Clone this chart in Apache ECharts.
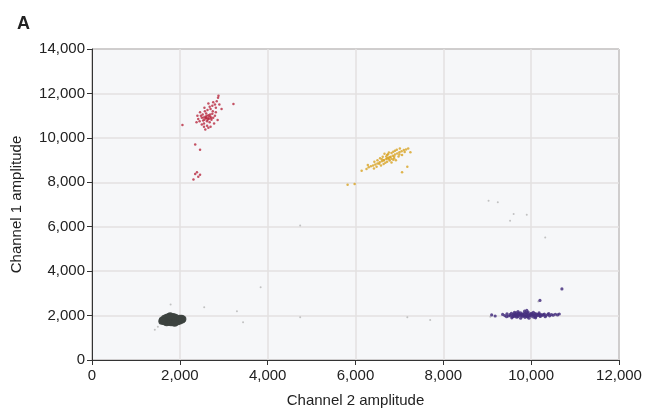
<!DOCTYPE html>
<html>
<head>
<meta charset="utf-8">
<script src="https://cdn.jsdelivr.net/npm/echarts@6/dist/echarts.min.js"></script>
<style>
html,body{margin:0;padding:0;background:#fff;}
#chart{width:647px;height:419px;}
</style>
</head>
<body>
<div id="chart"></div>
<script>
// Tick values (Channel 2 = x, Channel 1 = y)
const xTicks = [0, 2000, 4000, 6000, 8000, 10000, 12000];
const yTicks = [0, 2000, 4000, 6000, 8000, 10000, 12000, 14000];

// Double-negative cluster (grey blob)
const greyCluster = [
  [1600,1800],[1650,1720],[1650,1880],[1700,1680],[1700,1800],[1700,1920],[1750,1700],[1750,1830],
  [1750,1960],[1800,1680],[1800,1800],[1800,1930],[1850,1700],[1850,1830],[1850,1960],[1900,1690],
  [1900,1800],[1900,1920],[1950,1720],[1950,1850],[2000,1760],[2000,1880],[2050,1800],[2070,1850],
  [1620,1760],[1780,1990],[1880,1650],[1590,1740],[2040,1880]
];

// Channel-1 positive cluster (red)
const redCluster = [
  [2450,10750],[2500,10900],[2520,11050],[2550,10650],[2560,10820],[2580,10950],[2600,11100],[2620,10750],
  [2640,10880],[2650,11020],[2680,10700],[2700,10950],[2720,10820],[2740,11080],[2760,10900],[2480,11000],
  [2530,10780],[2590,10880],[2610,10980],[2660,10850],[2690,11050],[2570,11200],[2630,11250],[2700,11300],
  [2750,11200],[2800,11000],[2820,11150],[2420,10850],[2400,11000],[2460,11150],[2550,10500],[2620,10550],
  [2700,10500],[2780,10650],[2500,10600],[2650,10450],[2580,10380],[2680,11400],[2740,11450],[2800,11500],
  [2760,11600],[2840,11650],[2870,11800],[2900,11500],[2820,11350],[2880,11900],[2650,11550],[2950,11300],
  [2860,10800],[2380,10700],[2560,11350],[2600,10900],[2630,10820],[2670,10960],[2540,10920],[2710,10880],
  [2060,10580],[3220,11520],[2350,9700],[2460,9470],[2390,8450],[2460,8340],[2310,8120],[2350,8370],[2420,8250]
];

// Double-positive cluster (yellow)
const yellowCluster = [
  [6700,9050],[6650,9000],[6750,9100],[6600,8950],[6800,9150],[6550,8900],[6850,9200],[6500,8850],
  [6900,9250],[6450,8800],[6950,9300],[7000,9350],[7050,9400],[7100,9450],[7200,9520],[6620,9150],
  [6720,9230],[6780,8980],[6680,8880],[6560,9080],[6820,9320],[6880,9080],[6500,8990],[6480,8700],
  [6400,8760],[6350,8720],[6300,8680],[6760,9340],[6900,9420],[6980,9160],[7060,9230],[7120,9360],
  [6860,9020],[6640,8820],[6580,8760],[6720,8920],[6740,9260],[6860,9370],[6940,9460],[7010,9520],
  [6660,9280],[6430,8920],[6280,8780],[6820,8890],[6920,8990],[6720,9080],[6640,8980],[6780,9130],
  [6820,9060],[6700,9160],[6760,9040],[6880,9160],[6600,9040],[7000,9250],[6540,8840],[7150,9480],
  [6140,8520],[7060,8450],[5980,7920],[5820,7890],[6250,8600],[7250,9350],[6420,8620],[7180,8700]
];

// Channel-2 positive cluster (purple)
const purpleCluster = [
  [9350,2050],[9400,2000],[9450,2080],[9480,1980],[9520,2040],[9550,2100],[9580,1950],[9600,2020],
  [9630,2080],[9650,1990],[9680,2050],[9700,1950],[9720,2110],[9750,2000],[9780,2060],[9800,1960],
  [9820,2030],[9850,2100],[9870,1980],[9900,2050],[9920,1940],[9950,2010],[9980,2080],[10000,1970],
  [10030,2040],[10060,2000],[10080,2090],[10100,1950],[10130,2030],[10160,2060],[10200,1990],[10230,2040],
  [10260,2010],[10300,2070],[10340,2000],[10380,2050],[10420,1990],[10460,2040],[10500,2020],[10550,2060],
  [10600,2030],[10640,2070],[9850,2200],[9900,2230],[9620,2150],[9760,1880],[9950,1880],[10100,1900],
  [9700,2180],[10050,2150],[9560,1900],[9660,2120],[9880,2120],[10180,2120],[9440,1950],[10400,2090],
  [10320,1950],[9740,2040],[9960,2000],[9840,1990],[9640,2010],[10020,2050],[9920,2100],
  [9590,2060],[9690,2000],[9790,2010],[9890,1990],[9990,2030],[10090,2010],[10190,2050],[10280,2040],
  [9610,1960],[9710,2070],[9810,2080],[9910,1960],[10010,2100],[10110,2080],[10210,1960],[9530,1990],
  [9760,2120],[9860,1920],[10060,1930],[9930,2160],[10150,2000],[9670,1930],
  [9100,2030],[9180,1980],[10200,2680],[10700,3200]
];

// Sparse stray droplets (faint grey)
const strayPoints = [
  [1790,2500],[2555,2380],[3440,1700],[3840,3270],[4740,1920],[4740,6050],[7180,1920],[7700,1800],
  [9030,7170],[9240,7100],[9600,6570],[9900,6540],[9520,6270],[10320,5520],[10160,2630],[1430,1360],
  [9070,1950],[1500,1500],[3300,2200]
];

const fmt = v => Number(v).toLocaleString('en-US');
const chart = echarts.init(document.getElementById('chart'), null, {renderer: 'canvas'});
const font = 'Liberation Sans, Arial, Helvetica, sans-serif';

chart.setOption({
  animation: false,
  backgroundColor: '#ffffff',
  title: {
    text: 'A', left: 12, top: 10,
    textStyle: {fontFamily: font, fontSize: 18, fontWeight: 'bold', color: '#222'}
  },
  grid: {
    left: 92, right: 28, top: 49, bottom: 59,
    show: true, backgroundColor: '#f6f7f9', borderColor: '#333', borderWidth: 1
  },
  xAxis: {
    type: 'value', min: xTicks[0], max: xTicks[xTicks.length - 1], interval: 2000,
    name: 'Channel 2 amplitude', nameLocation: 'middle', nameGap: 33,
    nameTextStyle: {fontFamily: font, fontSize: 15, color: '#222'},
    axisLine: {show: true, lineStyle: {color: '#333', width: 1}},
    axisTick: {show: true, inside: false, length: 5, lineStyle: {color: '#333'}},
    axisLabel: {fontFamily: font, fontSize: 15, color: '#222', margin: 8, formatter: fmt},
    splitLine: {show: true, lineStyle: {color: '#e3e0e0', width: 1.5}}
  },
  yAxis: {
    type: 'value', min: yTicks[0], max: yTicks[yTicks.length - 1], interval: 2000,
    name: 'Channel 1 amplitude', nameLocation: 'middle', nameGap: 68,
    nameTextStyle: {fontFamily: font, fontSize: 15, color: '#222'},
    axisLine: {show: true, lineStyle: {color: '#333', width: 1}},
    axisTick: {show: true, inside: false, length: 5, lineStyle: {color: '#333'}},
    axisLabel: {fontFamily: font, fontSize: 15, color: '#222', margin: 7, formatter: fmt},
    splitLine: {show: true, lineStyle: {color: '#e3e0e0', width: 1.5}}
  },
  series: [
    {type: 'scatter', data: strayPoints, symbolSize: 2, itemStyle: {color: '#b4b4b4', opacity: 0.8}},
    {type: 'scatter', data: greyCluster, symbolSize: 7, itemStyle: {color: '#3c423f', opacity: 0.95}},
    {type: 'scatter', data: redCluster, symbolSize: 2.5, itemStyle: {color: '#b8283f', opacity: 0.8}},
    {type: 'scatter', data: yellowCluster, symbolSize: 2.5, itemStyle: {color: '#d8a322', opacity: 0.8}},
    {type: 'scatter', data: purpleCluster, symbolSize: 3.2, itemStyle: {color: '#46307f', opacity: 0.85}}
  ]
});
</script>
</body>
</html>
